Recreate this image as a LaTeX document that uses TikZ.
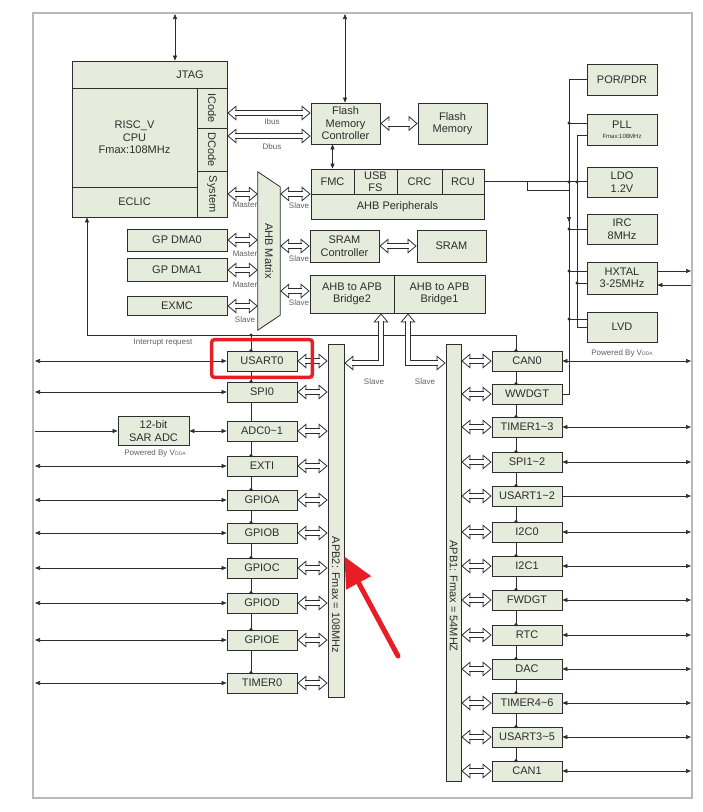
\documentclass[tikz,border=0pt]{standalone}
\usepackage{fontspec}
\setmainfont{Liberation Sans}
\usetikzlibrary{arrows.meta}
\pgfdeclarelayer{bg}
\pgfsetlayers{bg,main}
\definecolor{cBlock}{RGB}{230,236,219}
\definecolor{cLine}{RGB}{45,45,45}
\definecolor{cNote}{RGB}{95,95,95}
\definecolor{cFrame}{RGB}{185,185,185}
\definecolor{cMark}{RGB}{232,30,38}
\tikzset{
  blk/.style={draw=cLine,fill=cBlock,line width=0.8pt,inner sep=1pt,align=center,text=cLine},
  wh/.style 2 args={minimum width=#1pt,minimum height=#2pt},
  per/.style={blk,wh={70}{20}},
  bustip/.style={draw=cLine,line width=0.8pt,arrows={Triangle[open,fill=white,length=9pt,width=15pt]-Triangle[open,fill=white,length=9pt,width=15pt]}},
  busbody/.style={draw=cLine,line width=0.8pt,double=white,double distance=4.4pt,shorten <=7.6pt,shorten >=7.6pt},
  sig/.style={draw=cLine,line width=0.6pt},
  note/.style={text=cNote,font=\fontsize{8}{9}\selectfont,inner sep=0pt},
  vtxt/.style={rotate=-90,text=cLine,inner sep=0pt},
}
\newcommand\busline[1]{\draw[bustip]#1;\draw[busbody]#1;}
\begin{document}
\begin{tikzpicture}[x=1pt,y=-1pt,font=\fontsize{11}{12.5}\selectfont,>={Triangle[length=5pt,width=4pt]}]
\useasboundingbox (0,0) rectangle (703,812);
\draw[cFrame,line width=1.5pt] (33,13) rectangle (692,798);

% core, flash, AHB side
\node[blk,wh={155}{27}] (jtag) at (149.5,74.5) {};
\node[text=cLine] (jtagtxt) at (190,75) {JTAG};
\node[blk,wh={125}{99}] (cpu) at (134.5,137.5) {RISC\_V\\CPU\\Fmax:108MHz};
\node[blk,wh={30}{40},label={[vtxt]center:ICode}] (icode) at (212,108) {};
\node[blk,wh={30}{43},label={[vtxt]center:DCode}] (dcode) at (212,149.5) {};
\node[blk,wh={30}{46},label={[vtxt]center:System}] (system) at (212,194) {};
\node[blk,wh={125}{30}] (eclic) at (134.5,202) {ECLIC};
\node[blk,wh={69}{41}] (flashc) at (345.5,123.5) {Flash\\Memory\\Controller};
\node[blk,wh={69}{41}] (flashm) at (452.5,123.5) {Flash\\Memory};
\node[blk,wh={43}{25}] (fmc) at (332.5,181.5) {FMC};
\node[blk,wh={43}{25},inner sep=0pt,font=\fontsize{11}{12}\selectfont] (usb) at (375.5,181.5) {USB\\FS};
\node[blk,wh={45}{25}] (crc) at (419.5,181.5) {CRC};
\node[blk,wh={42}{25}] (rcu) at (463,181.5) {RCU};
\node[blk,wh={173}{25}] (ahbp) at (397.5,206.5) {AHB Peripherals};
\node[wh={22}{158},inner sep=0pt] (mtx) at (269,251) {};
\draw[blk] (mtx.north west) -- ([yshift=-15pt]mtx.north east) -- ([yshift=15pt]mtx.south east) -- (mtx.south west) -- cycle;
\node[vtxt] (mtxtxt) at (mtx.center) {AHB Matrix};
\node[blk,wh={100}{22}] (dma0) at (177,240) {GP DMA0};
\node[blk,wh={100}{23}] (dma1) at (177,270) {GP DMA1};
\node[blk,wh={100}{19}] (exmc) at (177,306) {EXMC};
\node[blk,wh={69}{32}] (sramc) at (344.5,246) {SRAM\\Controller};
\node[blk,wh={69}{32}] (sram) at (451.5,246) {SRAM};
\node[blk,wh={84}{38}] (br2) at (352,294) {AHB to APB\\Bridge2};
\node[blk,wh={91}{38}] (br1) at (439.5,294) {AHB to APB\\Bridge1};

% clock and power
\node[blk,wh={70}{31}] (por) at (622,79.5) {POR/PDR};
\node[blk,wh={70}{31}] (pll) at (622,129.5) {PLL\\[-2pt]{\fontsize{6}{7}\selectfont Fmax:108MHz}};
\node[blk,wh={70}{30}] (ldo) at (622,182) {LDO\\1.2V};
\node[blk,wh={70}{30}] (irc) at (622,229) {IRC\\8MHz};
\node[blk,wh={70}{32}] (hxtal) at (622,278) {HXTAL\\3-25MHz};
\node[blk,wh={70}{30}] (lvd) at (622,327) {LVD};
\node[note] (vddaR) at (622,353) {Powered By V{\fontsize{5}{6}\selectfont DDA}};

% APB2 side
\foreach \n/\t/\y in {usart0/USART0/361,spi0/SPI0/392,adc/ADC0\textasciitilde1/431,exti/EXTI/466,gpioa/GPIOA/500,gpiob/GPIOB/533,gpioc/GPIOC/568,gpiod/GPIOD/603,gpioe/GPIOE/640,timer0/TIMER0/683}
  \node[per] (\n) at (262,\y) {\t};
\node[blk,wh={16}{353}] (apb2) at (336,520.5) {};
\node[vtxt] (apb2txt) at (336,595) {APB2: Fmax = 108MHz};
\node[blk,wh={71}{29}] (sar) at (153.5,431) {12-bit\\SAR ADC};
\node[note] (vddaL) at (155,453) {Powered By V{\fontsize{5}{6}\selectfont DDA}};

% APB1 side
\foreach \n/\t/\y in {can0/CAN0/361,wwdgt/WWDGT/394,tim13/TIMER1\textasciitilde3/427,spi12/SPI1\textasciitilde2/462,usart12/USART1\textasciitilde2/496,i2c0/I2C0/532,i2c1/I2C1/566,fwdgt/FWDGT/600,rtc/RTC/635,dac/DAC/669,tim46/TIMER4\textasciitilde6/703,usart35/USART3\textasciitilde5/737,can1/CAN1/771}
  \node[per] (\n) at (527,\y) {\t};
\node[blk,wh={15}{437}] (apb1) at (453.5,562.5) {};
\node[vtxt] (apb1txt) at (453.5,596) {APB1: Fmax = 54MHZ};

% interrupt line and peripheral chains, behind the blocks
\coordinate (irqL) at (87,335);
\coordinate (irqR) at (516,335);
\coordinate (lch) at (251,335);
\begin{pgfonlayer}{bg}
\draw[sig] (irqL) -- (irqR) -- (irqR |- can1.north);
\draw[sig] (lch) -- (lch |- timer0.north);
\end{pgfonlayer}
\draw[sig,->] (irqL) -- (irqL |- eclic.south);
\node[note] (irqtxt) at (163,343) {Interrupt request};
\fill[cLine] (lch) circle (1.7pt);
\foreach \n in {usart0,spi0,exti,gpioa,gpiob,gpioc,gpiod,gpioe,timer0}
  \fill[cLine] (lch |- \n.north) circle (1.7pt);
\foreach \n in {can0,wwdgt,tim13,spi12,usart12,i2c0,i2c1,fwdgt,rtc,dac,tim46,usart35,can1}
  \fill[cLine] (irqR |- \n.north) circle (1.7pt);

% buses
\coordinate (ibus) at (0,113);
\coordinate (dbus) at (0,136);
\busline{(icode.east |- ibus) -- (flashc.west |- ibus)}
\busline{(dcode.east |- dbus) -- (flashc.west |- dbus)}
\node[note] (ibustxt) at (272,122) {Ibus};
\node[note] (dbustxt) at (272,147) {Dbus};
\busline{(flashc.east) -- (flashm.west)}
\busline{(sramc.east) -- (sram.west)}
\busline{(system.east) -- (system.east -| mtx.west)}
\busline{(mtx.east |- system.east) -- (ahbp.west |- system.east)}
\busline{(dma0.east) -- (dma0.east -| mtx.west)}
\busline{(dma1.east) -- (dma1.east -| mtx.west)}
\busline{(exmc.east) -- (exmc.east -| mtx.west)}
\busline{(mtx.east |- sramc.west) -- (sramc.west)}
\busline{([yshift=3pt]mtx.east |- br2.west) -- ([yshift=3pt]br2.west)}
\node[note] (mst1) at (245,205) {Master};
\node[note] (mst2) at (245,254) {Master};
\node[note] (mst3) at (245,285) {Master};
\node[note] (slv0) at (245,320) {Slave};
\node[note] (slv1) at (299,206) {Slave};
\node[note] (slv2) at (299,259) {Slave};
\node[note] (slv3) at (299,303) {Slave};
\coordinate (b2turn) at (381,363);
\coordinate (b1turn) at (408,363);
\busline{(br2.south -| b2turn) |- (apb2.east |- b2turn)}
\busline{(br1.south -| b1turn) |- (apb1.west |- b1turn)}
\node[note] (slv4) at (374,382) {Slave};
\node[note] (slv5) at (425,382) {Slave};
\foreach \n in {usart0,spi0,adc,exti,gpioa,gpiob,gpioc,gpiod,gpioe,timer0}
  {\busline{(\n.east) -- (\n.east -| apb2.west)}}
\foreach \n in {can0,wwdgt,tim13,spi12,usart12,i2c0,i2c1,fwdgt,rtc,dac,tim46,usart35,can1}
  {\busline{(\n.west -| apb1.east) -- (\n.west)}}

% signals
\coordinate (jtagio) at (175,14);
\coordinate (flashio) at (345,14);
\draw[sig,<->] (jtagio) -- (jtagio |- jtag.north);
\draw[sig,<->] (flashio) -- (flashio |- flashc.north);
\draw[sig,<->] (fmc.north |- flashc.south) -- (fmc.north);
\coordinate (edgeL) at (35,0);
\coordinate (edgeR) at (691,0);
\foreach \n in {usart0,spi0,exti,gpioa,gpiob,gpioc,gpiod,gpioe,timer0}
  \draw[sig,<->] (edgeL |- \n.west) -- (\n.west);
\draw[sig,->] (edgeL |- sar.west) -- (sar.west);
\draw[sig,<->] (sar.east) -- (sar.east -| adc.west);
\foreach \n in {can0,tim13,spi12,i2c0,i2c1,fwdgt,rtc,dac,tim46,usart35,can1}
  \draw[sig,<->] (\n.east) -- (\n.east -| edgeR);
\draw[sig,->] (usart12.east) -- (usart12.east -| edgeR);

% clock tree
\coordinate (ckA) at (569,0);
\coordinate (ckB) at (577,0);
\coordinate (rcuf) at (527,190);
\draw[sig] (wwdgt.east) -| (ckA |- por.west) -- (por.west);
\draw[sig] (rcu.east) -- (rcu.east -| ldo.west);
\draw[sig] (rcuf |- rcu.east) -- (rcuf) -- (rcuf -| ckA);
\draw[sig,->] (rcuf -| ckA) -- ([yshift=-32pt]rcuf -| ckA);
\draw[sig] ([yshift=6.5pt]pll.west) -- ([yshift=6.5pt]pll.west -| ckA);
\draw[sig] (irc.west) -- (irc.west -| ckA);
\draw[sig] ([yshift=7pt]hxtal.west) -- ([yshift=7pt]hxtal.west -| ckA);
\draw[sig] ([yshift=8pt]lvd.west) -- ([yshift=8pt]lvd.west -| ckA);
\draw[sig] ([yshift=-5.5pt]pll.west) -| (ckB |- lvd.west) -- (lvd.west);
\draw[sig] ([yshift=-5pt]hxtal.west) -- ([yshift=-5pt]hxtal.west -| ckB);
\foreach \y in {123,182,229,271,319} \fill[cLine] (569,\y) circle (1.7pt);
\foreach \y in {182,283} \fill[cLine] (577,\y) circle (1.7pt);
\draw[sig,->] ([yshift=7pt]hxtal.east) -- ([yshift=7pt]hxtal.east -| edgeR);
\draw[sig,<-] ([yshift=-7pt]hxtal.east) -- ([yshift=-7pt]hxtal.east -| edgeR);

% red marks
\draw[cMark,line width=3.5pt,rounded corners=3pt] ([shift={(-15pt,11pt)}]usart0.north west) rectangle ([shift={(15pt,-6pt)}]usart0.south east);
\coordinate (markT) at (398,656);
\draw[cMark,line width=5pt,line cap=round,-{Triangle[length=30pt,width=27pt]}] (markT) -- ([yshift=-36pt]apb2.east);
\end{tikzpicture}
\end{document}
